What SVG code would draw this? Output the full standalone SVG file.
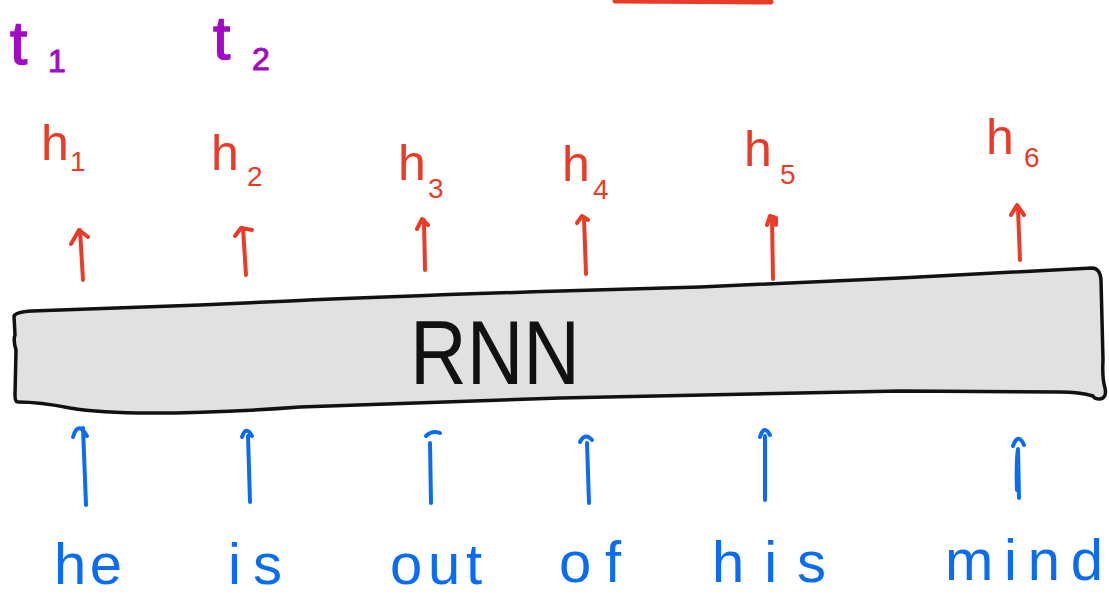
<svg xmlns="http://www.w3.org/2000/svg" width="1109" height="596" viewBox="0 0 1109 596">
  <style>
    .hand { font-family: "Liberation Sans", Arial, sans-serif; }
    .time { fill: #A20AC6; stroke: #A20AC6; stroke-width: 1.5; font-size: 62px; }
    .time-sub { fill: #A20AC6; stroke: #A20AC6; stroke-width: 1; font-size: 32px; }
    .state { fill: #EA3B28; font-size: 50px; }
    .state-sub { fill: #EA3B28; font-size: 28px; }
    .word { fill: #0B6CF2; font-size: 58px; }
    .title { fill: #111; font-size: 90px; }
    .out-arrow { stroke: #EA3B28; stroke-width: 4; fill: none; stroke-linecap: round; stroke-linejoin: round; }
    .in-arrow { stroke: #0B6CF2; stroke-width: 4; fill: none; stroke-linecap: round; stroke-linejoin: round; }
  </style>

  <!-- red stroke at the top edge -->
  <path d="M615,1 L700,1.5 L771,2" stroke="#EA3B28" stroke-width="5" stroke-linecap="round" fill="none"/>

  <!-- time step labels -->
  <g id="t1" class="hand">
    <text class="time" x="10" y="64">t</text>
    <text class="time-sub" x="48" y="72">1</text>
  </g>
  <g id="t2" class="hand">
    <text class="time" x="213" y="59">t</text>
    <text class="time-sub" x="252" y="70">2</text>
  </g>

  <!-- hidden state labels -->
  <g id="h1" class="hand">
    <text class="state" x="41" y="160">h</text>
    <text class="state-sub" x="70" y="171">1</text>
  </g>
  <g id="h2" class="hand">
    <text class="state" x="211" y="170">h</text>
    <text class="state-sub" x="247" y="186">2</text>
  </g>
  <g id="h3" class="hand">
    <text class="state" x="398" y="180">h</text>
    <text class="state-sub" x="428" y="198">3</text>
  </g>
  <g id="h4" class="hand">
    <text class="state" x="562" y="181">h</text>
    <text class="state-sub" x="593" y="199">4</text>
  </g>
  <g id="h5" class="hand">
    <text class="state" x="744" y="166">h</text>
    <text class="state-sub" x="780" y="184">5</text>
  </g>
  <g id="h6" class="hand">
    <text class="state" x="986" y="154">h</text>
    <text class="state-sub" x="1024" y="167">6</text>
  </g>

  <!-- recurrent network block -->
  <g id="rnn">
    <path d="M14,316 Q16,312 32,311 L200,305 L290,301 Q400,296 560,291 L700,287 L900,278 L1092,268
             Q1100,268 1101,280 L1103,360 Q1102,378 1105,388 Q1107,398 1100,399 Q1094,399 1093,396
             Q1080,392 1060,392 L900,391 L560,398 L300,407 Q220,413 150,413 Q100,413 70,408 Q40,402 18,402
             Q15,402 15,395 L16,350 Q13,340 15,335 Z"
          fill="#E1E1E1" stroke="#111" stroke-width="3.5" stroke-linejoin="round"/>
    <text class="hand title" x="410" y="384" textLength="170" lengthAdjust="spacingAndGlyphs">RNN</text>
  </g>

  <!-- input words -->
  <g id="w-he" class="hand"><text class="word" x="54" y="584" textLength="68" lengthAdjust="spacing">he</text></g>
  <g id="w-is" class="hand"><text class="word" x="228" y="584" textLength="54" lengthAdjust="spacing">is</text></g>
  <g id="w-out" class="hand"><text class="word" x="390" y="584" textLength="92" lengthAdjust="spacing">out</text></g>
  <g id="w-of" class="hand"><text class="word" x="559" y="582" textLength="62" lengthAdjust="spacing">of</text></g>
  <g id="w-his" class="hand"><text class="word" x="712" y="582" textLength="114" lengthAdjust="spacing">his</text></g>
  <g id="w-mind" class="hand"><text class="word" x="945" y="580" textLength="158" lengthAdjust="spacing">mind</text></g>

  <!-- connectors -->
  <g id="connectors">
    <!-- block to hidden states -->
    <path class="out-arrow" d="M83,280 L80,230 M71,244 L79,230 L88,237"/>
    <path class="out-arrow" d="M246,275 L243,228 M235,236 L241,228 L252,230"/>
    <path class="out-arrow" d="M425,270 L424,220 M417,229 L422,219 L428,225"/>
    <path class="out-arrow" d="M586,274 L584,218 M577,223 L582,216 L588,220"/>
    <path class="out-arrow" d="M773,279 L772,218 M767,225 L770,216 L776,218 L776,225"/>
    <path class="out-arrow" d="M1020,260 L1018,208 M1011,215 L1017,205 L1024,215"/>
    <!-- words to block -->
    <path class="in-arrow" d="M86,505 L83,428 M73,437 Q78,420 87,436"/>
    <path class="in-arrow" d="M250,502 L248,436 M242,437 Q246,425 252,436"/>
    <path class="in-arrow" d="M431,503 L430,443 M426,436 Q432,430 440,433"/>
    <path class="in-arrow" d="M589,503 L587,443 M580,442 Q585,432 592,440"/>
    <path class="in-arrow" d="M765,500 L765,436 M760,437 Q764,424 770,435"/>
    <path class="in-arrow" d="M1019,498 L1018,449 Q1016,462 1017,490 M1013,446 Q1018,432 1024,445"/>
  </g>
</svg>
